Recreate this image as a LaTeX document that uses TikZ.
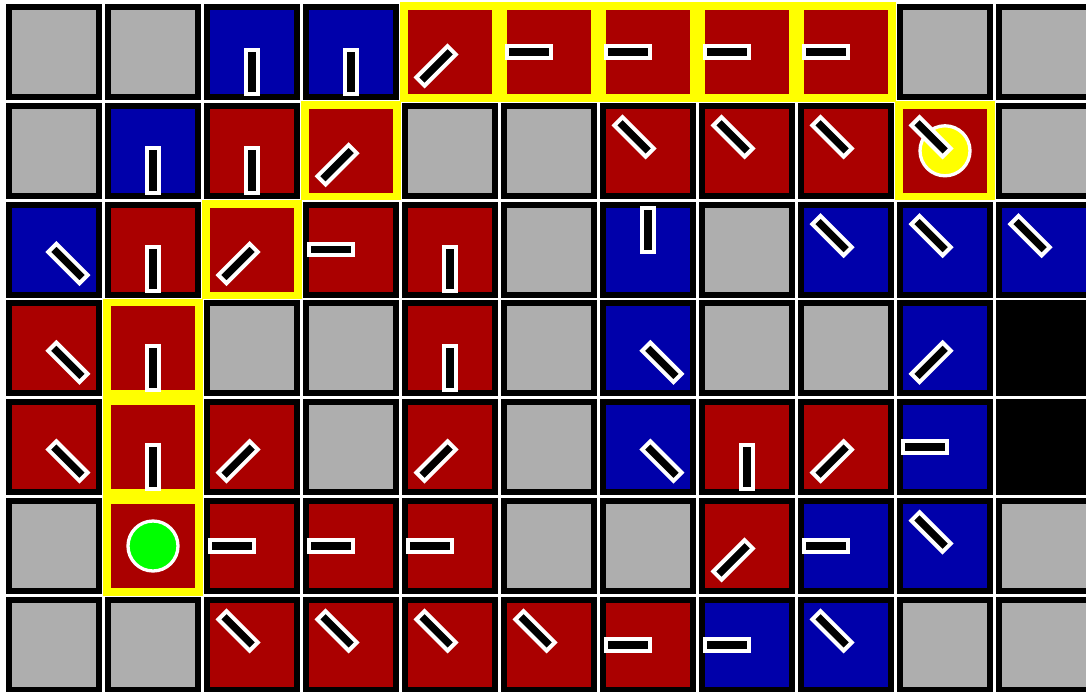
\documentclass[tikz,border=0pt]{standalone}
\definecolor{cR}{RGB}{170,0,0}
\definecolor{cB}{RGB}{0,0,170}
\definecolor{cG}{RGB}{174,174,174}
\definecolor{cK}{RGB}{0,0,0}
\definecolor{cY}{RGB}{255,255,0}
\definecolor{cL}{RGB}{0,255,0}
\begin{document}
\begin{tikzpicture}[x=1pt,y=-1pt,
  bar/.style={draw=white,fill=black,line width=4pt},
  disc/.style={draw=white,line width=3.3pt}]
\useasboundingbox (0,0) rectangle (1086,691);
\clip (0,0) rectangle (1086,691);
\fill[white] (0,0) rectangle (1086,691);
% cells: column / row / fill colour / highlighted
\foreach \c/\r/\k/\h in {
0/0/cG/0,1/0/cG/0,2/0/cB/0,3/0/cB/0,4/0/cR/1,5/0/cR/1,6/0/cR/1,7/0/cR/1,8/0/cR/1,9/0/cG/0,10/0/cG/0,
0/1/cG/0,1/1/cB/0,2/1/cR/0,3/1/cR/1,4/1/cG/0,5/1/cG/0,6/1/cR/0,7/1/cR/0,8/1/cR/0,9/1/cR/1,10/1/cG/0,
0/2/cB/0,1/2/cR/0,2/2/cR/1,3/2/cR/0,4/2/cR/0,5/2/cG/0,6/2/cB/0,7/2/cG/0,8/2/cB/0,9/2/cB/0,10/2/cB/0,
0/3/cR/0,1/3/cR/1,2/3/cG/0,3/3/cG/0,4/3/cR/0,5/3/cG/0,6/3/cB/0,7/3/cG/0,8/3/cG/0,9/3/cB/0,10/3/cK/0,
0/4/cR/0,1/4/cR/1,2/4/cR/0,3/4/cG/0,4/4/cR/0,5/4/cG/0,6/4/cB/0,7/4/cR/0,8/4/cR/0,9/4/cB/0,10/4/cK/0,
0/5/cG/0,1/5/cR/1,2/5/cR/0,3/5/cR/0,4/5/cR/0,5/5/cG/0,6/5/cG/0,7/5/cR/0,8/5/cB/0,9/5/cB/0,10/5/cG/0,
0/6/cG/0,1/6/cG/0,2/6/cR/0,3/6/cR/0,4/6/cR/0,5/6/cR/0,6/6/cR/0,7/6/cB/0,8/6/cB/0,9/6/cG/0,10/6/cG/0}{
  \pgfmathsetmacro\x{6+\c*99}
  \pgfmathsetmacro\y{4+\r*98.8}
  \ifnum\h=1
    \fill[cY] (\x-1.6,\y-1.6) rectangle (\x+97.6,\y+97.6);
  \else
    \fill[black] (\x,\y) rectangle (\x+96,\y+96);
  \fi
  \fill[\k] (\x+6,\y+6) rectangle (\x+90,\y+90);
}
% start and goal discs
\draw[disc,fill=cL] (153,546) circle[radius=25pt];
\draw[disc,fill=cY] (945,150.8) circle[radius=25pt];
% bars: column / row / direction angle
\foreach \c/\r/\a in {
2/0/270,3/0/270,4/0/225,5/0/180,6/0/180,7/0/180,8/0/180,
1/1/270,2/1/270,3/1/225,6/1/135,7/1/135,8/1/135,9/1/135,
0/2/315,1/2/270,2/2/225,3/2/180,4/2/270,6/2/90,8/2/135,9/2/135,10/2/135,
0/3/315,1/3/270,4/3/270,6/3/315,9/3/225,
0/4/315,1/4/270,2/4/225,4/4/225,6/4/315,7/4/270,8/4/225,9/4/180,
2/5/180,3/5/180,4/5/180,7/5/225,8/5/180,9/5/135,
2/6/135,3/6/135,4/6/135,5/6/135,6/6/180,7/6/180,8/6/135}{
  \pgfmathsetmacro\x{54+\c*99}
  \pgfmathsetmacro\y{52+\r*98.8}
  \draw[bar,shift={(\x,\y)},rotate=\a] (-2.4,-5.8) rectangle (41.8,5.8);
}
\end{tikzpicture}
\end{document}
